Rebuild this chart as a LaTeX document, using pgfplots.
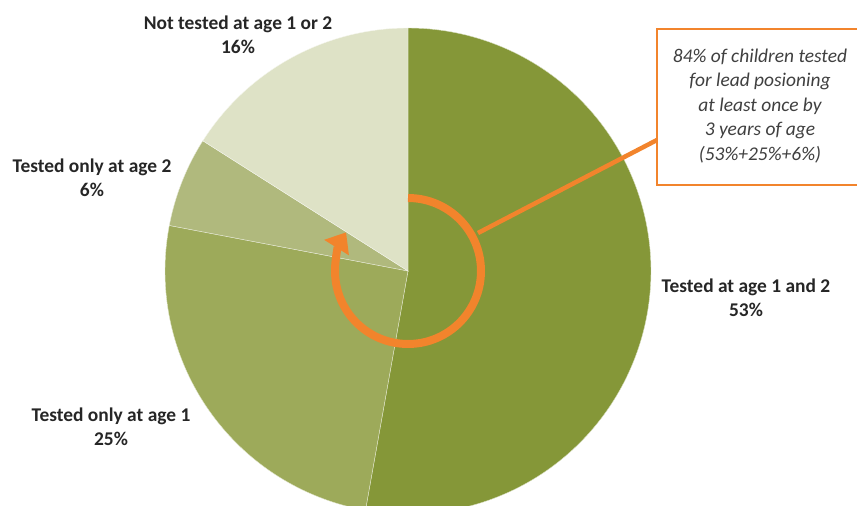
\documentclass[border=0pt]{standalone}
\usepackage{fontspec}
\setmainfont{Carlito}
\usepackage{pgfplots}
\pgfplotsset{compat=1.18}
\usetikzlibrary{arrows.meta}
\definecolor{cA}{HTML}{859738}
\definecolor{cB}{HTML}{9DAA5A}
\definecolor{cC}{HTML}{B0B97D}
\definecolor{cD}{HTML}{DEE2C6}
\definecolor{cO}{HTML}{F2842C}
\definecolor{lbl}{HTML}{262626}
\definecolor{boxt}{HTML}{404040}
\begin{document}
\begin{tikzpicture}
\begin{axis}[
  x=1bp, y=1bp,
  xmin=0, xmax=857, ymin=0, ymax=506,
  hide axis, clip=true,
]
% pie: centre (408,235), radius 243; values 53, 25, 6, 16 (clockwise from 12 o'clock)
\addplot[fill=cA, draw=white!70!cA, line width=0.4bp, domain=90:90-3.6*52.8, samples=150, variable=\t]
  ({408+243*cos(\t)}, {235+243*sin(\t)}) -- (axis cs:408,235) -- cycle;
\addplot[fill=cB, draw=white!70!cB, line width=0.4bp, domain=90-3.6*52.8:90-3.6*78, samples=80, variable=\t]
  ({408+243*cos(\t)}, {235+243*sin(\t)}) -- (axis cs:408,235) -- cycle;
\addplot[fill=cC, draw=white!70!cC, line width=0.4bp, domain=90-3.6*78:90-3.6*84, samples=30, variable=\t]
  ({408+243*cos(\t)}, {235+243*sin(\t)}) -- (axis cs:408,235) -- cycle;
\addplot[fill=cD, draw=white!70!cD, line width=0.4bp, domain=90-3.6*84:90-3.6*100, samples=60, variable=\t]
  ({408+243*cos(\t)}, {235+243*sin(\t)}) -- (axis cs:408,235) -- cycle;

% circular arrow and connector
\draw[cO, line width=4.5bp] (axis cs:478,273) -- (axis cs:657,366);
\draw[cO, line width=8bp, -{Triangle[length=18bp,width=28bp]}]
  (axis cs:408,308) arc[start angle=90, end angle=-212, radius=73bp];

% callout box
\draw[cO, line width=1.3bp, fill=white] (axis cs:657,477) rectangle (axis cs:880,321);
\node[align=center, text=boxt, font=\fontsize{19.5}{24.5}\selectfont\itshape]
  at (axis cs:760,400) {84\% of children tested\\for lead posioning\\at least once by\\3 years of age\\(53\%+25\%+6\%)};

% labels
\node[align=center, text=lbl, font=\fontsize{19.5}{24.5}\selectfont\bfseries]
  at (axis cs:238,471.5) {Not tested at age 1 or 2\\16\%};
\node[align=center, text=lbl, font=\fontsize{19.5}{24.5}\selectfont\bfseries]
  at (axis cs:92,328.5) {Tested only at age 2\\6\%};
\node[align=center, text=lbl, font=\fontsize{19.5}{24.5}\selectfont\bfseries]
  at (axis cs:111,79.5) {Tested only at age 1\\25\%};
\node[align=center, text=lbl, font=\fontsize{19.5}{24.5}\selectfont\bfseries]
  at (axis cs:746,208.5) {Tested at age 1 and 2\\53\%};
\end{axis}
\pgfresetboundingbox
\path[use as bounding box] (0,0) rectangle (857bp,506bp);
\end{tikzpicture}
\end{document}
